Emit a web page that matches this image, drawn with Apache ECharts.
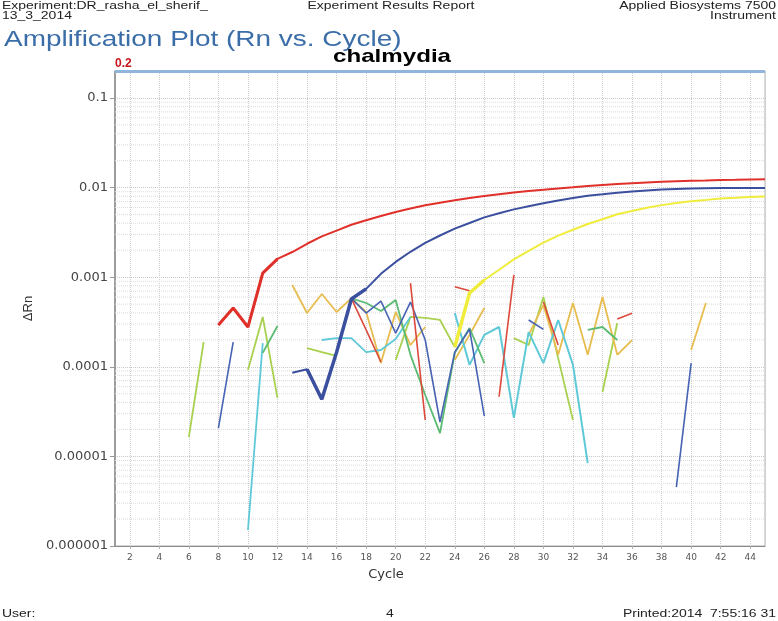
<!DOCTYPE html>
<html><head><meta charset="utf-8">
<script src="https://cdn.jsdelivr.net/npm/echarts@6/dist/echarts.min.js"></script>
<style>html,body{margin:0;padding:0;background:#fff}#c{width:778px;height:621px}</style>
</head><body><div id="c"></div><script>
// ---------- DATA (cycle, ΔRn) ----------
const xTickLabels = [2,4,6,8,10,12,14,16,18,20,22,24,26,28,30,32,34,36,38,40,42,44];
const yTickLabels = [0.000001,0.00001,0.0001,0.001,0.01,0.1];
const threshold = 0.2;

// amplification curves: first cycle + ΔRn per cycle
const redAmpStart = 8;
const redAmpValues = [2.93e-4,4.53e-4,2.78e-4,1.11e-3,1.60e-3,1.91e-3,2.36e-3,2.85e-3,3.31e-3,3.85e-3,4.31e-3,4.82e-3,5.33e-3,5.85e-3,6.34e-3,6.78e-3,7.22e-3,7.63e-3,8.05e-3,8.43e-3,8.81e-3,9.16e-3,9.48e-3,9.77e-3,1.007e-2,1.04e-2,1.067e-2,1.094e-2,1.117e-2,1.137e-2,1.158e-2,1.175e-2,1.19e-2,1.20e-2,1.215e-2,1.22e-2,1.23e-2,1.24e-2];
const blueAmpStart = 13;
const blueAmpValues = [8.59e-5,9.37e-5,4.34e-5,1.45e-4,5.7e-4,7.4e-4,1.09e-3,1.48e-3,1.92e-3,2.41e-3,2.92e-3,3.48e-3,4.03e-3,4.65e-3,5.16e-3,5.71e-3,6.20e-3,6.68e-3,7.16e-3,7.63e-3,8.12e-3,8.42e-3,8.75e-3,9.02e-3,9.30e-3,9.50e-3,9.62e-3,9.75e-3,9.82e-3,9.87e-3,9.90e-3,9.90e-3,9.90e-3];
const yellowAmpStart = 24;
const yellowAmpValues = [1.66e-4,6.67e-4,9.30e-4,1.21e-3,1.58e-3,1.97e-3,2.43e-3,2.91e-3,3.38e-3,3.92e-3,4.43e-3,5.04e-3,5.48e-3,5.96e-3,6.37e-3,6.73e-3,7.05e-3,7.29e-3,7.56e-3,7.69e-3,7.85e-3,7.96e-3];

// noise traces: [cycle, ΔRn]
const redNoiseA = [[17,5.81e-4],[18,2.58e-4],[19,1.13e-4]];
const redNoiseB = [[21,8.6e-4],[22,2.55e-5]];
const redNoiseC = [[24,7.83e-4],[25,7.06e-4]];
const redNoiseD = [[27,4.63e-5],[28,1.06e-3]];
const redNoiseE = [[30,5.28e-4],[31,1.75e-4]];
const redNoiseF = [[35,3.41e-4],[36,3.95e-4]];

const blueNoiseA = [[8,2.07e-5],[9,1.89e-4]];
const blueNoiseB = [[17,5.81e-4],[18,3.98e-4],[19,5.42e-4],[20,2.38e-4],[21,5.28e-4],[22,1.99e-4],[23,2.42e-5],[24,1.46e-4],[25,2.64e-4],[26,2.82e-5]];
const blueNoiseC = [[29,3.33e-4],[30,2.62e-4]];
const blueNoiseD = [[39,4.55e-6],[40,1.10e-4]];

const cyanNoiseA = [[10,1.51e-6],[11,1.84e-4]];
const cyanNoiseB = [[15,1.99e-4],[16,2.09e-4],[17,2.09e-4],[18,1.46e-4],[19,1.54e-4],[20,2.04e-4],[21,3.6e-4]];
const cyanNoiseC = [[24,3.98e-4],[25,1.05e-4],[26,2.27e-4],[27,2.78e-4],[28,2.69e-5],[29,2.44e-4],[30,1.10e-4],[31,3.33e-4],[32,1.05e-4],[33,8.43e-6]];

const limeNoiseA = [[6,1.65e-5],[7,1.89e-4]];
const limeNoiseB = [[10,9.2e-5],[11,3.6e-4],[12,4.49e-5]];
const limeNoiseC = [[14,1.62e-4],[15,1.46e-4],[16,1.32e-4]];
const limeNoiseD = [[20,1.19e-4],[21,3.6e-4],[22,3.51e-4],[23,3.33e-4],[24,1.66e-4]];
const limeNoiseE = [[28,2.09e-4],[29,1.75e-4],[30,6.01e-4],[31,1.25e-4],[32,2.55e-5]];
const limeNoiseF = [[34,5.24e-5],[35,3.08e-4]];

const greenNoiseA = [[11,1.43e-4],[12,2.85e-4]];
const greenNoiseB = [[17,5.81e-4],[18,5.15e-4],[19,4.2e-4],[20,5.57e-4],[21,1.36e-4],[22,4.84e-5],[23,1.82e-5],[24,1.43e-4],[25,2.71e-4],[26,1.10e-4]];
const greenNoiseC = [[33,2.58e-4],[34,2.78e-4],[35,1.99e-4]];

const orangeNoiseA = [[13,8.18e-4],[14,3.98e-4],[15,6.49e-4],[16,4.09e-4],[17,5.81e-4],[18,4.09e-4],[19,1.10e-4],[20,4.09e-4],[21,1.75e-4],[22,2.78e-4]];
const orangeNoiseB = [[24,1.19e-4],[25,2.27e-4],[26,4.53e-4]];
const orangeNoiseC = [[29,2.27e-4],[30,4.90e-4],[31,1.36e-4],[32,5.15e-4],[33,1.36e-4],[34,6.01e-4],[35,1.36e-4],[36,1.99e-4]];
const orangeNoiseD = [[40,1.54e-4],[41,5.15e-4]];

// ---------- CHART ----------
const FONT = '"Liberation Sans", Arial, sans-serif';
const COL = {red:'#e0302a', redThin:'#dc4a3c', blue:'#3b4f9f', blueThin:'#4763b3', yellow:'#f0ec3c',
  cyan:'#60c9d8', lime:'#a8d14f', green:'#5cbb72', orange:'#e8bd50'};
const X_MIN = 1, X_MAX = 45;

function ampPoints(start, values){ return values.map((v,i)=>[start+i, v]); }
function line(name, data, color, width, z){
  return {name, type:'line', data, symbol:'none', smooth:false, z: z||2, silent:true,
    lineStyle:{color, width}, itemStyle:{color}};
}

const redAmp = ampPoints(redAmpStart, redAmpValues);
const blueAmp = ampPoints(blueAmpStart, blueAmpValues);
const yellowAmp = ampPoints(yellowAmpStart, yellowAmpValues);

// minor log grid lines (2..9 per decade) drawn as faint full-width lines
const minorValues = [];
yTickLabels.slice(0,5).forEach(d=>{ for(let k=2;k<=9;k++) minorValues.push(+(d*k).toPrecision(3)); });
const minorSeries = minorValues.map(v => ({type:'line', data:[[X_MIN,v],[X_MAX,v]], symbol:'none', silent:true, z:1,
  lineStyle:{type:'dotted', color:'#dcdcdc', width:1}}));

const series = [
  ...minorSeries,
  line('lA', limeNoiseA, COL.lime, 1.8), line('lB', limeNoiseB, COL.lime, 1.8), line('lC', limeNoiseC, COL.lime, 1.8),
  line('lD', limeNoiseD, COL.lime, 1.8), line('lE', limeNoiseE, COL.lime, 1.8), line('lF', limeNoiseF, COL.lime, 1.8),
  line('oA', orangeNoiseA, COL.orange, 1.8), line('oB', orangeNoiseB, COL.orange, 1.8),
  line('oC', orangeNoiseC, COL.orange, 1.8), line('oD', orangeNoiseD, COL.orange, 1.8),
  line('cA', cyanNoiseA, COL.cyan, 1.8), line('cB', cyanNoiseB, COL.cyan, 1.8), line('cC', cyanNoiseC, COL.cyan, 2),
  line('gA', greenNoiseA, COL.green, 1.8), line('gB', greenNoiseB, COL.green, 1.8), line('gC', greenNoiseC, COL.green, 1.8),
  line('bA', blueNoiseA, COL.blueThin, 1.6), line('bB', blueNoiseB, COL.blueThin, 1.6),
  line('bC', blueNoiseC, COL.blueThin, 1.6), line('bD', blueNoiseD, COL.blueThin, 1.6),
  line('rA', redNoiseA, COL.redThin, 1.6), line('rB', redNoiseB, COL.redThin, 1.6), line('rC', redNoiseC, COL.redThin, 1.6),
  line('rD', redNoiseD, COL.redThin, 1.6), line('rE', redNoiseE, COL.redThin, 1.6), line('rF', redNoiseF, COL.redThin, 1.6),
  line('yellowAmp', yellowAmp, COL.yellow, 2, 5),
  line('yellowAmpStart', yellowAmp.slice(0,3), COL.yellow, 3.5, 5),
  line('blueAmp', blueAmp, COL.blue, 2, 5),
  line('blueAmpStart', blueAmp.slice(1,6), COL.blue, 3.5, 5),
  line('redAmp', redAmp, COL.red, 2, 5),
  line('redAmpStart', redAmp.slice(0,5), COL.red, 3, 5),
  {type:'line', data:[], silent:true, z:6, clip:false,
    markLine:{silent:true, symbol:'none', animation:false,
      lineStyle:{type:'solid', color:'#92b5dd', width:3},
      label:{show:true, position:'insideStartTop', formatter:String(threshold), color:'#c8161d',
        fontWeight:'bold', fontSize:12, fontFamily:FONT, distance:[0,1]},
      data:[{yAxis:threshold}]}}
];

function fmtY(v){
  const e = Math.round(Math.log10(v));
  return e >= 0 ? String(Math.round(v)) : Number(v).toFixed(-e);
}

const chart = echarts.init(document.getElementById('c'), null, {renderer:'canvas'});
chart.setOption({
  animation:false,
  backgroundColor:'#ffffff',
  grid:{left:115, right:13, top:71, bottom:75, show:true, borderColor:'#b0b0b0', borderWidth:1},
  xAxis:{type:'value', min:X_MIN, max:X_MAX, splitNumber:22, minInterval:2, maxInterval:2,
    axisLine:{show:true, lineStyle:{color:'#8a8a8a', width:1}},
    axisTick:{show:true, length:3, lineStyle:{color:'#b0b0b0'}},
    axisLabel:{fontSize:9, color:'#555', fontFamily:'"DejaVu Sans", sans-serif', margin:7,
      showMinLabel:false, showMaxLabel:false,
      formatter: v => xTickLabels.includes(v) ? String(v) : ''},
    splitLine:{show:true, lineStyle:{type:'dotted', color:'#cdcdcd'}},
    name:'Cycle', nameLocation:'middle', nameGap:22,
    nameTextStyle:{fontSize:13, color:'#333', fontFamily:'"DejaVu Sans", sans-serif', padding:[0,108,0,0]}},
  yAxis:{type:'log', logBase:10, min:yTickLabels[0], max:threshold,
    axisLine:{show:true, lineStyle:{color:'#8a8a8a', width:1.5}},
    axisTick:{show:true, length:5, lineStyle:{color:'#999'}},
    axisLabel:{fontSize:13, color:'#444', fontFamily:'"DejaVu Sans", sans-serif', margin:7,
      showMaxLabel:false, formatter: fmtY},
    splitLine:{show:true, lineStyle:{type:'dotted', color:'#c8c8c8'}},
    name:'ΔRn', nameLocation:'middle', nameGap:79, nameRotate:90,
    nameTextStyle:{fontSize:13, color:'#333', fontFamily:FONT}},
  series,
  graphic:[
    {type:'text', x:2, y:6, scaleX:1.27, silent:true,
      style:{text:'Experiment:DR_rasha_el_sherif_', font:'11px '+FONT, fill:'#222', align:'left', verticalAlign:'middle'}},
    {type:'text', x:2, y:16, scaleX:1.27, silent:true,
      style:{text:'13_3_2014', font:'11px '+FONT, fill:'#222', align:'left', verticalAlign:'middle'}},
    {type:'text', x:391, y:6, scaleX:1.27, silent:true,
      style:{text:'Experiment Results Report', font:'11px '+FONT, fill:'#222', align:'center', verticalAlign:'middle'}},
    {type:'text', x:776, y:6, scaleX:1.27, silent:true,
      style:{text:'Applied Biosystems 7500', font:'11px '+FONT, fill:'#222', align:'right', verticalAlign:'middle'}},
    {type:'text', x:776, y:16, scaleX:1.27, silent:true,
      style:{text:'Instrument', font:'11px '+FONT, fill:'#222', align:'right', verticalAlign:'middle'}},
    {type:'text', x:4, y:40, scaleX:1.27, silent:true,
      style:{text:'Amplification Plot (Rn vs. Cycle)', font:'22px '+FONT, fill:'#3b6ea8', align:'left', verticalAlign:'middle'}},
    {type:'text', x:392, y:57, scaleX:1.27, silent:true,
      style:{text:'chalmydia', font:'bold 19px '+FONT, fill:'#000', align:'center', verticalAlign:'middle'}},
    {type:'text', x:2, y:614, scaleX:1.27, silent:true,
      style:{text:'User:', font:'11px '+FONT, fill:'#222', align:'left', verticalAlign:'middle'}},
    {type:'text', x:390, y:614, scaleX:1.27, silent:true,
      style:{text:'4', font:'11px '+FONT, fill:'#222', align:'center', verticalAlign:'middle'}},
    {type:'text', x:776, y:614, scaleX:1.27, silent:true,
      style:{text:'Printed:2014  7:55:16 31', font:'11px '+FONT, fill:'#222', align:'right', verticalAlign:'middle'}}
  ]
});
</script></body></html>
